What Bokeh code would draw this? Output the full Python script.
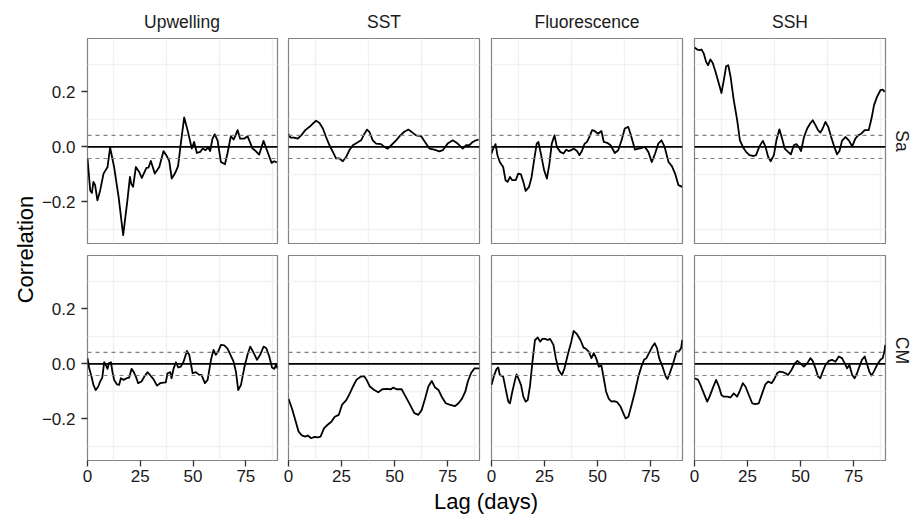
from math import pi
from bokeh.plotting import figure
from bokeh.layouts import row, column
from bokeh.models import Range1d, Span, Label, LinearAxis, Grid, FixedTicker
from bokeh.embed import file_html
from bokeh.resources import INLINE

# ---------------- data ----------------
variables = ["Upwelling", "SST", "Fluorescence", "SSH"]
sites = ["Sa", "CM"]
lag_ticks = [0, 25, 50, 75]
cor_ticks = [-0.2, 0.0, 0.2]
cor_tick_labels = ["\u22120.2", "0.0", "0.2"]
ci = 0.042  # significance bound (dashed lines)

upwelling_sa = [
    (0, -0.042), (1.3, -0.158), (2.1, -0.167), (2.8, -0.127), (3.6, -0.139), (4.7, -0.194),
    (6.0, -0.158), (7.6, -0.097), (9.5, -0.073), (10.7, -0.002), (12.6, -0.073), (14.7, -0.180),
    (16.9, -0.321), (18.9, -0.194), (20.1, -0.109), (20.8, -0.136), (21.6, -0.145), (22.9, -0.073),
    (24.5, -0.091), (25.7, -0.113), (27.9, -0.076), (28.9, -0.075), (30.0, -0.051), (31.9, -0.097),
    (34.0, -0.073), (36.0, -0.015), (37.6, -0.034), (38.7, -0.051), (39.9, -0.115), (41.5, -0.095),
    (42.9, -0.070), (44.2, 0.012), (45.8, 0.107), (47.4, 0.061), (49.4, -0.006), (50.5, 0.018),
    (51.8, -0.022), (53.4, -0.018), (54.6, -0.006), (55.9, -0.012), (57.2, -0.002), (58.1, -0.015),
    (59.2, 0.030), (60.3, 0.046), (61.6, 0.024), (63.2, -0.055), (65.1, -0.063), (66.3, -0.024),
    (67.9, 0.039), (69.2, 0.027), (70.0, 0.039), (71.1, 0.061), (72.3, 0.030), (74.2, 0.030),
    (75.8, 0.039), (78.2, -0.006), (79.7, -0.015), (81.3, -0.028), (83.4, 0.022), (85.0, -0.012),
    (87.2, -0.058), (88.4, -0.052), (89.7, -0.056),
]

sst_sa = [
    (0, 0.046), (0.9, 0.034), (2.5, 0.034), (4.4, 0.030), (6.0, 0.042), (7.9, 0.061), (9.9, 0.073),
    (11.5, 0.085), (13.0, 0.095), (14.6, 0.087), (16.2, 0.067), (17.7, 0.036), (19.3, 0.006),
    (20.9, -0.018), (22.4, -0.042), (24.0, -0.042), (25.6, -0.052), (27.2, -0.036), (28.7, -0.012),
    (30.3, 0.006), (32.3, 0.015), (34.2, 0.024), (35.8, 0.048), (37.0, 0.063), (38.1, 0.055),
    (39.7, 0.024), (41.3, 0.012), (43.6, 0.010), (45.2, 0.0), (46.8, -0.006), (48.4, 0.006),
    (50.7, 0.024), (52.7, 0.042), (54.6, 0.055), (56.5, 0.063), (58.6, 0.051), (60.1, 0.042),
    (62.5, 0.039), (64.8, 0.012), (66.4, -0.006), (68.7, -0.010), (71.1, -0.016), (72.7, -0.012),
    (75.0, 0.012), (77.4, 0.024), (79.7, 0.012), (82.1, -0.006), (83.7, 0.006), (85.2, 0.006),
    (86.8, 0.018), (88.4, 0.024), (89.6, 0.027),
]

fluorescence_sa = [
    (0, -0.024), (0.8, -0.006), (1.9, 0.010), (2.8, -0.030), (3.9, -0.055), (5.5, -0.073),
    (6.6, -0.121), (7.6, -0.127), (8.7, -0.109), (9.8, -0.121), (11.4, -0.121), (12.6, -0.097),
    (13.9, -0.100), (15.0, -0.127), (16.1, -0.160), (17.7, -0.145), (18.9, -0.109), (20.2, -0.042),
    (21.3, 0.012), (22.1, 0.018), (23.4, -0.030), (24.8, -0.085), (26.1, -0.115), (27.3, -0.061),
    (28.4, 0.012), (29.7, 0.042), (30.8, 0.0), (32.4, -0.018), (33.9, -0.024), (35.2, -0.010),
    (36.3, -0.015), (37.6, -0.012), (38.7, -0.006), (40.3, -0.015), (41.4, -0.030), (42.6, -0.015),
    (43.9, 0.012), (45.0, 0.018), (46.3, 0.039), (47.4, 0.061), (48.6, 0.058), (50.2, 0.048),
    (51.8, 0.058), (52.9, 0.018), (54.5, 0.015), (56.1, 0.006), (58.1, -0.022), (59.7, -0.012),
    (61.3, 0.024), (62.8, 0.067), (64.4, 0.073), (65.5, 0.048), (67.6, -0.010), (69.2, -0.006),
    (70.7, -0.004), (72.3, 0.0), (73.9, -0.018), (75.5, -0.055), (77.1, -0.024), (78.6, 0.012),
    (80.1, 0.024), (81.6, 0.0), (83.4, -0.055), (85.0, -0.070), (86.5, -0.097), (88.1, -0.139),
    (89.8, -0.145),
]

ssh_sa = [
    (0, 0.361), (1.3, 0.354), (2.4, 0.352), (3.3, 0.354), (4.4, 0.339), (5.5, 0.309), (6.4, 0.297),
    (7.5, 0.318), (8.6, 0.305), (9.9, 0.273), (11.5, 0.230), (12.7, 0.196), (13.8, 0.242),
    (14.9, 0.293), (15.9, 0.297), (17.0, 0.255), (18.5, 0.170), (20.1, 0.097), (21.4, 0.024),
    (22.8, 0.0), (24.3, -0.018), (25.9, -0.030), (27.9, -0.033), (29.0, -0.030), (30.6, 0.002),
    (32.2, 0.022), (33.4, 0.002), (34.7, -0.036), (35.9, -0.052), (37.4, -0.030), (38.6, 0.024),
    (40.0, 0.064), (41.3, 0.030), (42.5, -0.006), (44.1, -0.018), (45.4, -0.027), (46.8, 0.006),
    (48.0, 0.010), (49.1, 0.0), (50.2, -0.015), (51.6, 0.036), (53.1, 0.067), (54.5, 0.085),
    (55.7, 0.097), (57.0, 0.079), (58.2, 0.061), (59.3, 0.052), (60.4, 0.067), (61.7, 0.091),
    (63.0, 0.073), (64.4, 0.036), (65.9, 0.0), (67.2, -0.027), (68.3, -0.015), (69.5, 0.022),
    (71.1, 0.036), (72.7, 0.024), (74.3, 0.002), (75.8, 0.030), (77.1, 0.042), (78.6, 0.048),
    (80.2, 0.061), (82.1, 0.061), (83.4, 0.103), (84.6, 0.152), (86.0, 0.182), (87.6, 0.206),
    (88.7, 0.208), (89.6, 0.200),
]

upwelling_cm = [
    (0, 0.021), (0.8, -0.016), (1.9, -0.046), (2.8, -0.076), (3.9, -0.095), (5.1, -0.082),
    (6.0, -0.064), (7.0, -0.050), (7.9, 0.006), (8.7, -0.004), (9.5, -0.018), (10.1, 0.002),
    (11.1, 0.006), (11.8, -0.028), (12.6, -0.058), (13.9, -0.074), (15.0, -0.076), (15.8, -0.052),
    (17.1, -0.058), (18.6, -0.052), (19.7, -0.050), (20.9, -0.018), (21.8, -0.028), (22.9, -0.046),
    (24.0, -0.070), (25.6, -0.064), (26.9, -0.046), (28.4, -0.030), (30.0, -0.044), (31.3, -0.056),
    (32.9, -0.079), (34.4, -0.070), (36.0, -0.068), (37.1, -0.067), (37.9, -0.034), (39.2, -0.030),
    (39.8, -0.052), (40.8, -0.016), (41.9, 0.006), (43.0, -0.013), (44.2, -0.010), (45.5, 0.008),
    (47.1, 0.047), (48.2, 0.033), (49.8, -0.034), (51.3, -0.030), (52.9, -0.040), (54.0, -0.040),
    (55.6, -0.070), (56.9, -0.058), (58.5, 0.015), (59.7, 0.051), (60.8, 0.033), (61.9, 0.045),
    (63.2, 0.069), (64.8, 0.067), (66.4, 0.055), (67.6, 0.035), (69.2, 0.008), (70.3, -0.028),
    (71.4, -0.095), (72.7, -0.076), (74.2, -0.016), (75.8, 0.033), (77.1, 0.063), (78.4, 0.045),
    (80.3, 0.015), (81.8, 0.033), (83.4, 0.063), (84.7, 0.057), (86.1, 0.027), (87.4, -0.013),
    (88.5, -0.018), (89.4, -0.001), (89.9, -0.016),
]

sst_cm = [
    (0, -0.127), (1.6, -0.161), (3.2, -0.204), (4.7, -0.245), (6.3, -0.260), (7.9, -0.264),
    (9.1, -0.260), (10.7, -0.270), (12.3, -0.265), (13.9, -0.267), (15.1, -0.264), (16.7, -0.234),
    (18.3, -0.222), (20.2, -0.210), (21.8, -0.192), (23.7, -0.185), (25.2, -0.149), (27.3, -0.131),
    (28.9, -0.107), (30.4, -0.082), (32.0, -0.058), (34.1, -0.046), (35.6, -0.044), (36.8, -0.058),
    (38.3, -0.082), (40.4, -0.095), (42.3, -0.103), (44.2, -0.092), (46.2, -0.091), (48.3, -0.092),
    (49.4, -0.086), (50.9, -0.092), (53.3, -0.092), (55.2, -0.119), (57.3, -0.149), (59.3, -0.179),
    (61.2, -0.185), (62.8, -0.167), (64.4, -0.125), (65.9, -0.082), (67.5, -0.062), (69.1, -0.086),
    (70.7, -0.095), (72.2, -0.119), (74.1, -0.143), (76.2, -0.149), (78.5, -0.153), (80.1, -0.143),
    (81.7, -0.127), (83.3, -0.101), (84.5, -0.064), (86.1, -0.032), (87.7, -0.016), (89.3, -0.016),
    (89.9, -0.016),
]

fluorescence_cm = [
    (0, -0.076), (1.3, -0.040), (2.4, -0.018), (3.2, -0.013), (3.9, -0.040), (5.5, -0.046),
    (6.6, -0.088), (7.9, -0.137), (8.7, -0.143), (9.8, -0.101), (11.1, -0.058), (11.8, -0.038),
    (12.6, -0.052), (13.9, -0.076), (15.0, -0.119), (16.1, -0.137), (17.1, -0.131), (18.2, -0.076),
    (19.3, 0.008), (20.5, 0.087), (21.8, 0.096), (22.9, 0.081), (24.0, 0.091), (25.3, 0.091),
    (26.5, 0.087), (27.6, 0.091), (29.2, 0.069), (30.3, 0.021), (31.6, -0.022), (33.2, -0.040),
    (34.4, -0.016), (36.0, 0.035), (37.6, 0.081), (38.7, 0.120), (40.3, 0.108), (41.9, 0.087),
    (43.4, 0.059), (44.5, 0.055), (45.8, 0.045), (47.1, 0.021), (48.2, 0.039), (49.3, 0.021),
    (50.6, -0.010), (51.8, -0.006), (52.9, -0.052), (54.0, -0.101), (55.3, -0.127), (56.6, -0.137),
    (57.7, -0.135), (59.2, -0.139), (60.8, -0.155), (62.1, -0.179), (63.2, -0.198), (64.5, -0.192),
    (66.0, -0.149), (67.6, -0.101), (69.2, -0.046), (70.8, -0.006), (71.9, 0.015), (73.0, 0.021),
    (74.2, 0.039), (75.8, 0.063), (76.9, 0.075), (78.0, 0.057), (79.0, 0.021), (80.6, -0.010),
    (82.1, -0.046), (82.9, -0.055), (84.0, -0.034), (85.6, 0.002), (87.2, 0.045), (88.5, 0.047),
    (89.4, 0.059), (89.9, 0.087),
]

ssh_cm = [
    (0, -0.052), (1.7, -0.058), (2.8, -0.076), (4.4, -0.107), (6.0, -0.137), (7.1, -0.119),
    (8.6, -0.088), (10.2, -0.058), (11.5, -0.082), (12.7, -0.113), (13.8, -0.119), (15.4, -0.119),
    (17.0, -0.122), (18.5, -0.107), (20.1, -0.119), (21.2, -0.101), (22.8, -0.070), (24.0, -0.082),
    (25.6, -0.113), (27.2, -0.143), (28.7, -0.146), (30.3, -0.143), (31.9, -0.107), (33.4, -0.074),
    (34.7, -0.064), (36.3, -0.070), (37.4, -0.058), (38.9, -0.034), (40.0, -0.028), (41.6, -0.030),
    (42.9, -0.034), (44.1, -0.040), (45.7, -0.022), (47.3, 0.002), (48.5, 0.011), (49.9, 0.002),
    (51.5, -0.010), (53.1, 0.002), (54.6, 0.021), (55.7, 0.011), (57.0, -0.016), (58.2, -0.046),
    (59.3, -0.052), (60.4, -0.028), (61.7, -0.004), (63.3, 0.011), (64.8, 0.015), (66.4, 0.008),
    (68.0, 0.027), (69.5, 0.021), (70.8, 0.002), (71.9, -0.016), (73.0, -0.004), (74.3, -0.040),
    (75.4, -0.052), (76.6, -0.034), (77.7, -0.010), (78.9, 0.015), (80.2, 0.027), (81.3, -0.001),
    (82.4, -0.028), (83.4, -0.042), (84.5, -0.028), (86.0, -0.004), (87.6, 0.015), (88.7, 0.021),
    (89.6, 0.051), (89.9, 0.069),
]

series = {
    ("Sa", "Upwelling"): upwelling_sa, ("Sa", "SST"): sst_sa,
    ("Sa", "Fluorescence"): fluorescence_sa, ("Sa", "SSH"): ssh_sa,
    ("CM", "Upwelling"): upwelling_cm, ("CM", "SST"): sst_cm,
    ("CM", "Fluorescence"): fluorescence_cm, ("CM", "SSH"): ssh_cm,
}

# ---------------- styling / layout ----------------
FONT = "Liberation Sans"
X_MIN, X_MAX = 0, 90
Y_MIN, Y_MAX = -0.351, 0.394
FRAME_W, FRAME_H = 191, 205
LEFT_B = [48, 9, 10, 10]
RIGHT_B = [2, 2, 2, 2]
TOP_B = [2, 10]
BOTTOM_B = [2, 28]
STRIP_TOP_H = 36
STRIP_RIGHT_W = 26
YL_W = 38
XL_H = 28
OUTLINE = "#828282"
GRID = "#F1F1F1"
TEXT = "#1A1A1A"


def style_axis(ax, standoff):
    ax.axis_line_color = None
    ax.major_tick_in = 0
    ax.major_tick_out = 6
    ax.major_tick_line_color = "#333333"
    ax.major_tick_line_width = 1.3
    ax.minor_tick_line_color = None
    ax.major_label_standoff = standoff
    ax.major_label_text_font = FONT
    ax.major_label_text_font_size = "17px"
    ax.major_label_text_color = TEXT


def panel(r, c):
    site, var = sites[r], variables[c]
    w = LEFT_B[c] + FRAME_W + RIGHT_B[c]
    h = TOP_B[r] + FRAME_H + BOTTOM_B[r]
    p = figure(width=w, height=h,
               x_range=Range1d(X_MIN, X_MAX), y_range=Range1d(Y_MIN, Y_MAX),
               x_axis_type=None, y_axis_type=None,
               output_backend="svg", toolbar_location=None,
               min_border_left=LEFT_B[c], min_border_right=RIGHT_B[c],
               min_border_top=TOP_B[r], min_border_bottom=BOTTOM_B[r])
    p.background_fill_color = "white"
    p.border_fill_color = "white"
    p.outline_line_color = OUTLINE
    p.outline_line_width = 1.2

    p.add_layout(Grid(dimension=0, ticker=FixedTicker(ticks=[12.5, 37.5, 62.5, 87.5]),
                      grid_line_color=GRID, grid_line_width=1.4))
    p.add_layout(Grid(dimension=1, ticker=FixedTicker(ticks=[-0.3, -0.1, 0.1, 0.3]),
                      grid_line_color=GRID, grid_line_width=1.4))

    if c == 0:
        ya = LinearAxis(ticker=FixedTicker(ticks=cor_ticks),
                        major_label_overrides=dict(zip(cor_ticks, cor_tick_labels)))
        style_axis(ya, 6)
        p.add_layout(ya, "left")
    if r == 1:
        xa = LinearAxis(ticker=FixedTicker(ticks=lag_ticks))
        style_axis(xa, 3)
        p.add_layout(xa, "below")

    for loc in (ci, -ci):
        p.add_layout(Span(location=loc, dimension="width", line_color="#808080",
                          line_width=1.1, line_dash="4 4", level="glyph"))
    p.add_layout(Span(location=0, dimension="width", line_color="black",
                      line_width=1.8, level="glyph"))

    lag, cor = zip(*series[(site, var)])
    p.line(x=list(lag), y=list(cor), line_color="black", line_width=1.8, line_join="round")
    return p


def text_fig(w, h):
    """A plain canvas whose data units are pixels (y measured from the bottom)."""
    f = figure(width=w, height=h, x_range=Range1d(0, w), y_range=Range1d(0, h),
               x_axis_type=None, y_axis_type=None, min_border=0,
               output_backend="svg", toolbar_location=None)
    f.outline_line_color = None
    f.background_fill_color = "white"
    f.border_fill_color = "white"
    f.scatter(x=[], y=[], size=0)
    return f


def add_text(f, x, y, text, size, angle=0.0, color=TEXT):
    # (x, y) is the centre of the text box
    f.add_layout(Label(x=x, y=y, text=text, angle=angle,
                       text_align="center", text_baseline="middle",
                       text_font=FONT, text_font_size=size, text_color=color))


# top strips (text centre ~21.6 px below strip top)
top_strips = []
for c, var in enumerate(variables):
    w = LEFT_B[c] + FRAME_W + RIGHT_B[c]
    f = text_fig(w, STRIP_TOP_H)
    add_text(f, LEFT_B[c] + FRAME_W / 2, STRIP_TOP_H - 21.6, var, "17.5px")
    top_strips.append(f)
top_strips.append(text_fig(STRIP_RIGHT_W, STRIP_TOP_H))

# panel rows with right strips
panel_rows = []
for r, site in enumerate(sites):
    h = TOP_B[r] + FRAME_H + BOTTOM_B[r]
    s = text_fig(STRIP_RIGHT_W, h)
    add_text(s, 14, h - TOP_B[r] - FRAME_H / 2, site, "17.5px", angle=-pi / 2)
    panel_rows.append(row(*[panel(r, c) for c in range(4)], s, spacing=0))

grid_block = column(row(*top_strips, spacing=0), *panel_rows, spacing=0)
grid_h = STRIP_TOP_H + sum(TOP_B) + 2 * FRAME_H + sum(BOTTOM_B)
grid_w = sum(LEFT_B) + sum(RIGHT_B) + 4 * FRAME_W + STRIP_RIGHT_W

# y-axis title spanning both panel rows
yl = text_fig(YL_W, grid_h)
frames_top = STRIP_TOP_H + TOP_B[0]
frames_bottom = grid_h - BOTTOM_B[1]
add_text(yl, 24.5, grid_h - (frames_top + frames_bottom) / 2, "Correlation", "22px",
         angle=pi / 2, color="black")

# x-axis title spanning all columns
total_w = YL_W + grid_w
xl = text_fig(total_w, XL_H)
frames_left = YL_W + LEFT_B[0]
frames_right = YL_W + grid_w - STRIP_RIGHT_W - RIGHT_B[3]
add_text(xl, (frames_left + frames_right) / 2, 15.3, "Lag (days)", "22px", color="black")

layout = column(row(yl, grid_block, spacing=0), xl, spacing=0)

open("out.html", "w").write(file_html(layout, INLINE))
